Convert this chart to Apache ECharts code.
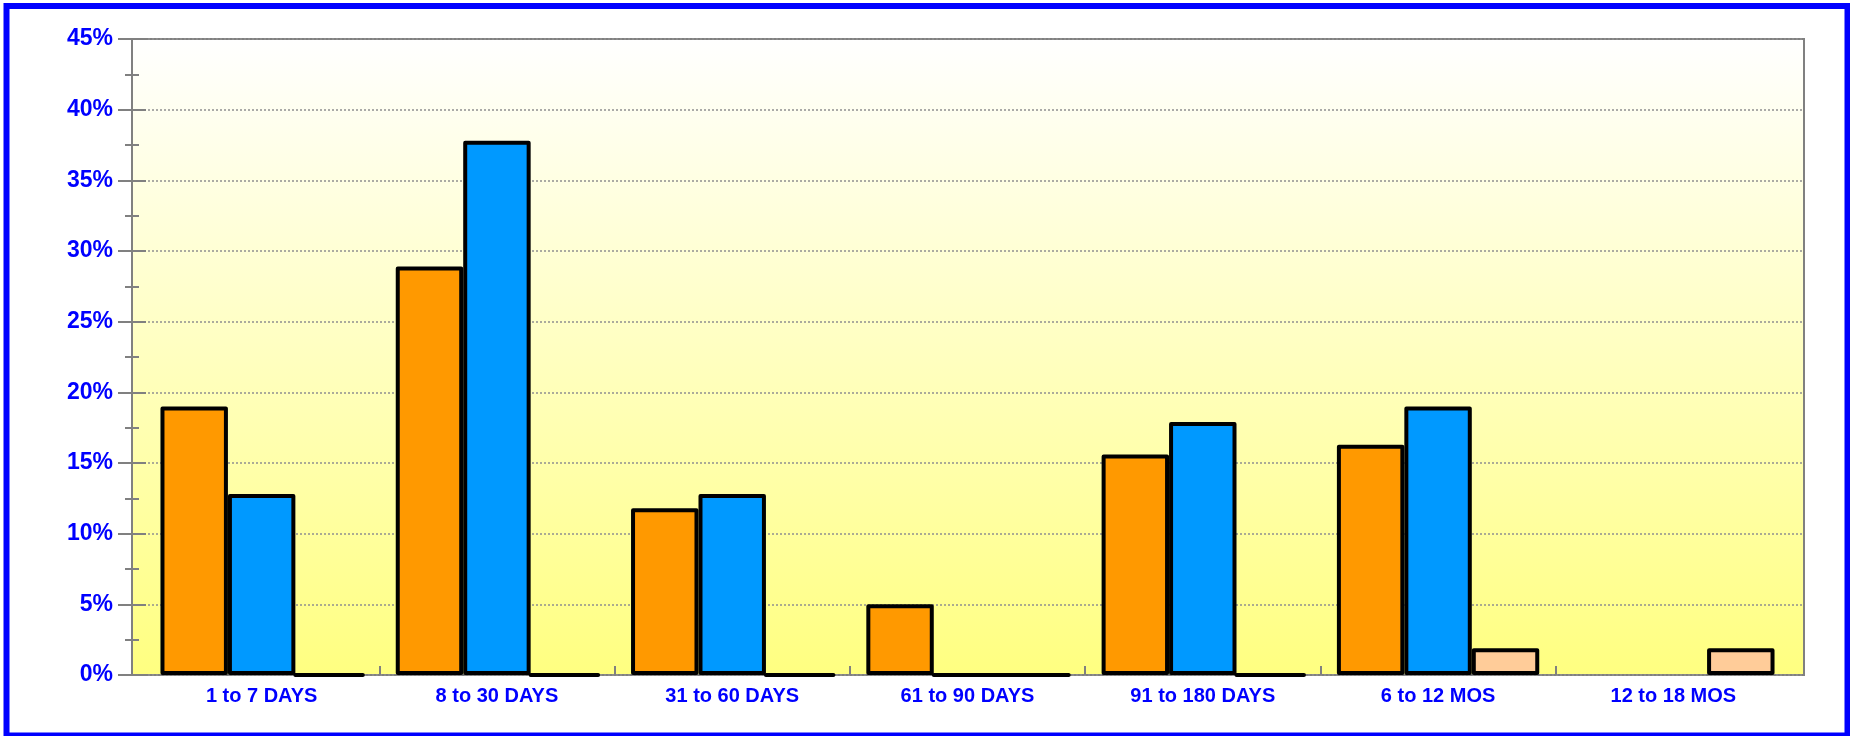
<!DOCTYPE html>
<html>
<head>
<meta charset="utf-8">
<script src="https://cdn.jsdelivr.net/npm/echarts@6/dist/echarts.min.js"></script>
<style>
  html, body { margin: 0; padding: 0; background: #fff; }
  #chart { width: 1850px; height: 736px; }
</style>
</head>
<body>
<div id="chart"></div>
<script>
// categories along x
var categories = ['1 to 7 DAYS', '8 to 30 DAYS', '31 to 60 DAYS', '61 to 90 DAYS', '91 to 180 DAYS', '6 to 12 MOS', '12 to 18 MOS']
// series values (percent)
var orangeValues = [19.0, 28.9, 11.8, 5.0, 15.6, 16.3, '-']
var blueValues = [12.8, 37.8, 12.8, 0, 17.9, 19.0, '-']
var peachValues = [0, 0, 0, 0, 0, 1.9, 1.9]

var labelFont = 'Liberation Sans, Arial, sans-serif'
var gray = '#808080'

// bar grid spans 144..1791, category width ~235.3
var barLeft = 144
var barRight = 59
var bandWidth = (1850 - barLeft - barRight) / categories.length

var chart = echarts.init(document.getElementById('chart'), null, { renderer: 'canvas' })

function barSeries(name, color, values) {
  return {
    name: name,
    type: 'bar',
    xAxisIndex: 1,
    yAxisIndex: 2,
    barGap: 0,
    barCategoryGap: '14%',
    data: values,
    itemStyle: {
      color: color,
      borderColor: '#000',
      borderWidth: 4,
      borderJoin: 'round'
    }
  }
}

chart.setOption({
  backgroundColor: '#fff',
  animation: false,
  graphic: [{
    type: 'rect',
    shape: { x: 6.5, y: 6, width: 1841, height: 729.5 },
    style: { fill: 'none', stroke: '#0000FF', lineWidth: 6 },
    z: 100
  }],
  grid: [
    {
      // frame + background
      left: 132, right: 46, top: 39, bottom: 61,
      show: true,
      borderColor: gray,
      borderWidth: 2,
      backgroundColor: new echarts.graphic.LinearGradient(0, 0, 0, 1, [
        { offset: 0, color: '#FFFFFF' },
        { offset: 1, color: '#FFFF80' }
      ])
    },
    {
      // bars
      left: barLeft, right: barRight, top: 39, bottom: 61
    },
    {
      // interior category boundaries (ticks only)
      left: barLeft + bandWidth,
      right: barRight + bandWidth,
      top: 39,
      bottom: 61
    }
  ],
  xAxis: [
    { type: 'value', gridIndex: 0, min: 0, max: 1, show: false },
    {
      type: 'category',
      gridIndex: 1,
      data: categories,
      axisLine: { show: false },
      axisTick: { show: false },
      axisLabel: {
        color: '#0000FF',
        fontWeight: 'bold',
        fontSize: 20,
        fontFamily: labelFont,
        margin: 11
      }
    },
    {
      type: 'value',
      gridIndex: 2,
      min: 0,
      max: categories.length - 2,
      interval: 1,
      axisLine: { show: false },
      axisTick: { show: true, inside: true, length: 9, lineStyle: { color: gray, width: 2 } },
      axisLabel: { show: false },
      splitLine: { show: false }
    }
  ],
  yAxis: [
    {
      type: 'value',
      gridIndex: 0,
      position: 'left',
      min: 0,
      max: 45,
      interval: 5,
      axisLine: { show: true, lineStyle: { color: gray, width: 2 } },
      axisTick: { show: true, length: 14, lineStyle: { color: gray, width: 2 } },
      minorTick: { show: true, splitNumber: 2, length: 7, lineStyle: { color: gray, width: 2 } },
      splitLine: { show: true, lineStyle: { color: '#909090', width: 1.5, type: [2, 2] } },
      axisLabel: {
        formatter: '{value}%',
        color: '#0000FF',
        fontWeight: 'bold',
        fontSize: 23,
        fontFamily: labelFont,
        margin: 19
      }
    },
    {
      // inner half of the crossing ticks
      type: 'value',
      gridIndex: 0,
      position: 'left',
      min: 0,
      max: 45,
      interval: 5,
      axisLine: { show: false },
      axisTick: { show: true, inside: true, length: 14, lineStyle: { color: gray, width: 2 } },
      minorTick: { show: true, splitNumber: 2, length: 7, lineStyle: { color: gray, width: 2 } },
      splitLine: { show: false },
      axisLabel: { show: false }
    },
    { type: 'value', gridIndex: 1, min: 0, max: 45, show: false },
    { type: 'value', gridIndex: 2, min: 0, max: 45, show: false }
  ],
  series: [
    barSeries('Series A', '#FF9900', orangeValues),
    barSeries('Series B', '#0099FF', blueValues),
    barSeries('Series C', '#FFCC99', peachValues)
  ]
})
</script>
</body>
</html>
